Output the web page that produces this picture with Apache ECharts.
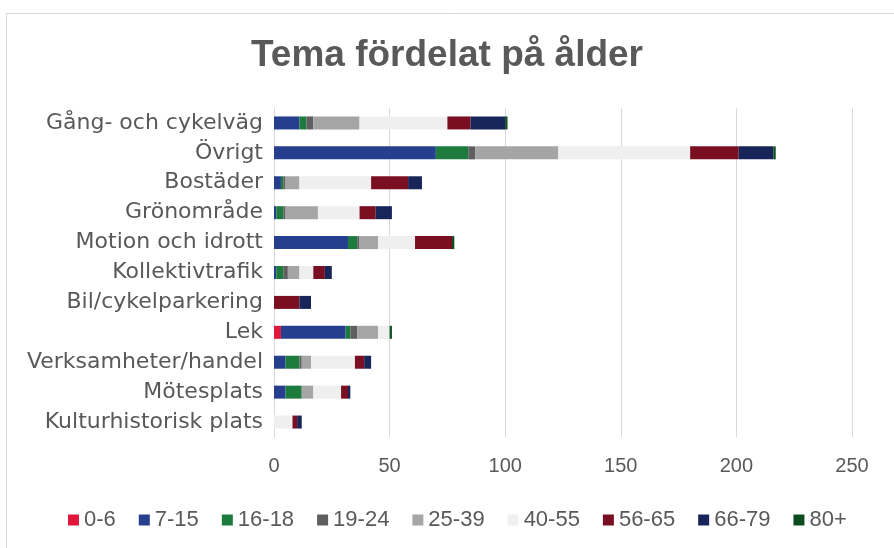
<!DOCTYPE html>
<html>
<head>
<meta charset="utf-8">
<script src="https://cdn.jsdelivr.net/npm/echarts@6/dist/echarts.min.js"></script>
<style>
html,body{margin:0;padding:0;background:#fff;}
#chart{width:894px;height:548px;}
</style>
</head>
<body>
<div id="chart"></div>
<script>
const categories = ["Gång- och cykelväg","Övrigt","Bostäder","Grönområde","Motion och idrott","Kollektivtrafik","Bil/cykelparkering","Lek","Verksamheter/handel","Mötesplats","Kulturhistorisk plats"];
const seriesNames = ["0-6","7-15","16-18","19-24","25-39","40-55","56-65","66-79","80+"];
const age0_6   = [0, 0, 0, 0, 0, 0, 0, 3, 0, 0, 0];
const age7_15  = [11, 70, 3, 1, 32, 1, 0, 28, 5, 5, 0];
const age16_18 = [3, 14, 1, 3, 4, 3, 0, 2, 6, 7, 0];
const age19_24 = [3, 3, 1, 1, 1, 2, 0, 3, 1, 0, 0];
const age25_39 = [20, 36, 6, 14, 8, 5, 0, 9, 4, 5, 0];
const age40_55 = [38, 57, 31, 18, 16, 6, 0, 5, 19, 12, 8];
const age56_65 = [10, 21, 16, 7, 16, 5, 11, 0, 4, 3, 2];
const age66_79 = [15, 15, 6, 7, 0, 3, 5, 0, 3, 1, 2];
const age80p   = [1, 1, 0, 0, 1, 0, 0, 1, 0, 0, 0];
const xTicks = [0, 50, 100, 150, 200, 250];
const colors = ["#e0163b","#253f8e","#1e7b3e","#5f5f5f","#a5a5a5","#efefef","#7b0f22","#172558","#0b4d1f"];

const allData = [age0_6, age7_15, age16_18, age19_24, age25_39, age40_55, age56_65, age66_79, age80p];
const font = "Liberation Sans, Arial, sans-serif";
const wideFont = "DejaVu Sans, sans-serif";

const chart = echarts.init(document.getElementById('chart'));
chart.setOption({
  animation: false,
  color: colors,
  title: {
    text: "Tema fördelat på ålder",
    left: 'center',
    top: 32,
    textStyle: {fontFamily: font, fontSize: 37, fontWeight: 'bold', color: '#595959'}
  },
  graphic: [
    {type: 'line', shape: {x1: 6.5, y1: 13.5, x2: 894, y2: 13.5}, style: {stroke: '#d9d9d9', lineWidth: 1}},
    {type: 'line', shape: {x1: 6.5, y1: 13.5, x2: 6.5, y2: 548}, style: {stroke: '#d9d9d9', lineWidth: 1}}
  ],
  legend: {
    bottom: 12,
    left: 63,
    itemWidth: 11,
    itemHeight: 11,
    itemGap: 23,
    icon: 'rect',
    textStyle: {fontFamily: font, fontSize: 22, color: '#595959', padding: [0,0,0,0]},
    data: seriesNames
  },
  grid: {left: 274, right: 42, top: 108, bottom: 111, containLabel: false},
  xAxis: {
    type: 'value',
    min: xTicks[0],
    max: xTicks[xTicks.length - 1],
    interval: 50,
    axisLine: {show: false},
    axisTick: {show: false},
    axisLabel: {fontFamily: font, fontSize: 20, color: '#595959', margin: 19},
    splitLine: {lineStyle: {color: '#d9d9d9', width: 1}}
  },
  yAxis: {
    type: 'category',
    inverse: true,
    data: categories,
    axisLine: {show: true, lineStyle: {color: '#d9d9d9'}},
    axisTick: {show: false},
    axisLabel: {fontFamily: wideFont, fontSize: 22, color: '#595959', margin: 11}
  },
  series: seriesNames.map((n, i) => ({
    name: n,
    type: 'bar',
    stack: 'total',
    barWidth: 13,
    data: allData[i],
    itemStyle: {color: colors[i]}
  }))
});
</script>
</body>
</html>
